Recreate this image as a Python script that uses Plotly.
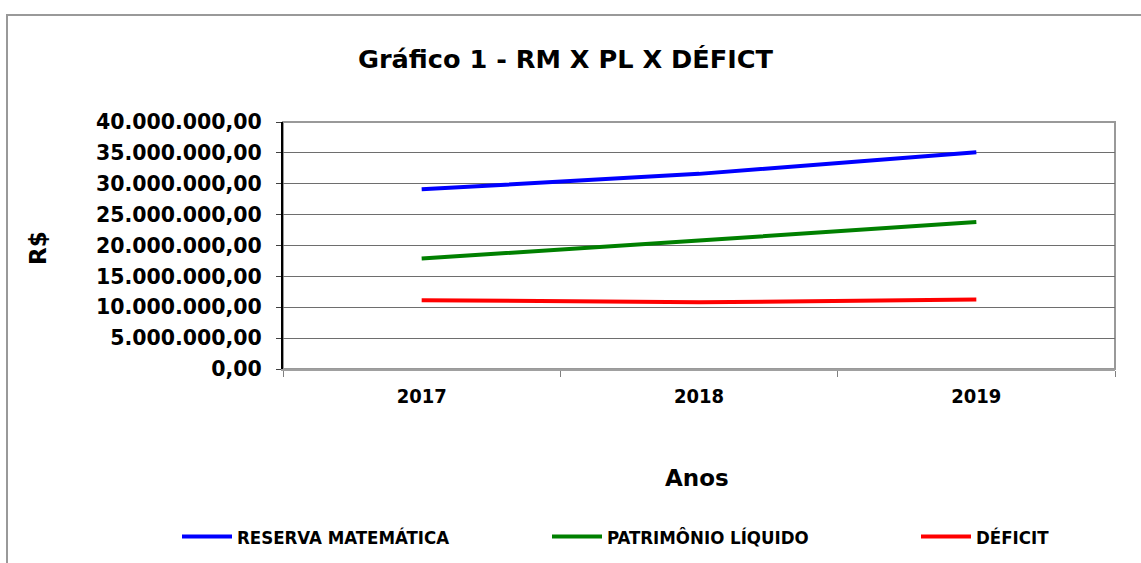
import plotly.graph_objects as go

anos = ["2017", "2018", "2019"]
reserva_matematica = [29.1e6, 31.6e6, 35.1e6]
patrimonio_liquido = [17.9e6, 20.8e6, 23.8e6]
deficit = [11.15e6, 10.8e6, 11.25e6]
series_names = ["RESERVA MATEMÁTICA", "PATRIMÔNIO LÍQUIDO", "DÉFICIT"]
series_colors = ["#0000FF", "#008000", "#FF0000"]

W, H = 1141, 563
L, R, T, B = 283, 1115, 122, 369

pw, ph = R - L, B - T
def px(x): return (x - L) / pw
def py(y): return (B - y) / ph

legend_ids = ["legend", "legend2", "legend3"]
legend_x = [177, 547, 916]

fig = go.Figure()
for name, vals, col, lid in zip(series_names, [reserva_matematica, patrimonio_liquido, deficit],
                                series_colors, legend_ids):
    fig.add_trace(go.Scatter(x=anos, y=vals, name="<b>" + name + "</b>", mode="lines", legend=lid,
                             line=dict(color=col, width=4, shape="spline", smoothing=0.6)))

leg_common = dict(orientation="h", xanchor="left", yanchor="middle", itemwidth=50,
                  font=dict(size=18.5, family="DejaVu Sans Condensed"), bgcolor="rgba(0,0,0,0)")

fig.update_layout(
    width=W, height=H,
    margin=dict(l=L, r=W - R, t=T, b=H - B, pad=0, autoexpand=False),
    paper_bgcolor="white", plot_bgcolor="white",
    separators=",.",
    font=dict(family="DejaVu Sans", color="black"),
    title=dict(text="<b>Gráfico 1 - RM X PL X DÉFICT</b>", x=565.5 / W, xanchor="center",
               y=1 - 59 / H, yanchor="middle", font=dict(size=25.6, family="DejaVu Sans")),
    xaxis=dict(type="category", range=[-0.5, 2.5], tickson="boundaries", ticks="outside",
               ticklen=6, tickcolor="#808080", showline=True, linecolor="#A0A0A0", linewidth=2,
               showgrid=False, tickfont=dict(size=20, family="DejaVu Sans Condensed"),
               tickprefix="<b>", ticksuffix="</b>", ticklabelstandoff=8),
    yaxis=dict(range=[0, 40e6], dtick=5e6, tickformat=",.2f", ticks="outside", ticklen=5,
               tickcolor="#404040", showline=True, linecolor="black", linewidth=2,
               showgrid=True, gridcolor="#6E6E6E", gridwidth=1, zeroline=False,
               tickfont=dict(size=20.5, family="DejaVu Sans"), tickprefix="<b>", ticksuffix="</b>",
               ticklabelstandoff=10),
    legend=dict(x=px(legend_x[0]), y=py(537), **leg_common),
    legend2=dict(x=px(legend_x[1]), y=py(537), **leg_common),
    legend3=dict(x=px(legend_x[2]), y=py(537), **leg_common),
    showlegend=True,
)

# outer chart border and plot-area border
fig.add_shape(type="rect", xref="paper", yref="paper", x0=px(7), y0=py(15), x1=px(1160), y1=py(590),
              line=dict(color="#999999", width=2), fillcolor="rgba(0,0,0,0)", layer="below")
fig.add_shape(type="rect", xref="paper", yref="paper", x0=0, y0=0, x1=1, y1=1,
              line=dict(color="#999999", width=2), fillcolor="rgba(0,0,0,0)", layer="below")

fig.add_annotation(text="<b>Anos</b>", xref="paper", yref="paper", x=px(697), y=py(478),
                   xanchor="center", yanchor="middle", showarrow=False,
                   font=dict(size=23, family="DejaVu Sans"))
fig.add_annotation(text="<b>R$</b>", xref="paper", yref="paper", x=px(38), y=py(248),
                   xanchor="center", yanchor="middle", showarrow=False, textangle=-90,
                   font=dict(size=23, family="DejaVu Sans"))

fig.write_html("out.html", config={"displayModeBar": False},
               post_script="document.body.style.margin='0px';document.body.style.overflow='hidden';")
